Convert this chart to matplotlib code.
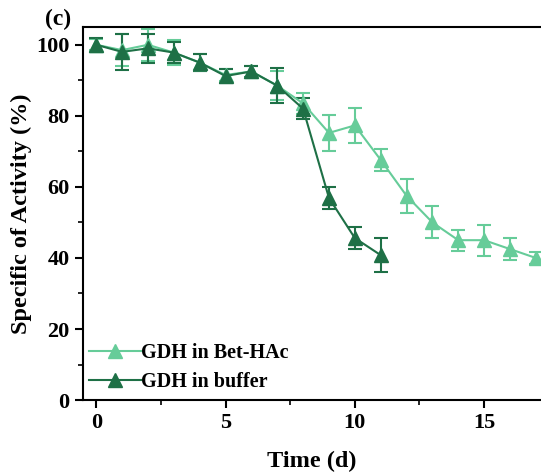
import numpy as np
import matplotlib
matplotlib.use('Agg')
import matplotlib.pyplot as plt
from matplotlib.ticker import MultipleLocator
from matplotlib.lines import Line2D

plt.rcParams['font.family'] = ['Liberation Serif', 'DejaVu Serif']
plt.rcParams['font.weight'] = 'bold'

# data
days_bet = list(range(0, 18))
act_bet = [100, 98.5, 100, 97.8, 95, 91.5, 92.5, 88.5, 83.5, 75.2, 77.3, 67.6, 57.5, 50, 45, 45, 42.5, 40]
err_bet = [1.5, 4.5, 4.5, 3.5, 2.5, 1.8, 1.5, 4, 3, 5, 5, 3, 4.8, 4.5, 3, 4.4, 3, 1.8]

days_buf = list(range(0, 12))
act_buf = [100, 98, 99, 97.8, 95, 91.2, 92.5, 88.5, 82, 56.9, 45.6, 40.8]
err_buf = [2, 5, 4, 3, 2.5, 2, 1.5, 5, 3, 3, 3, 4.8]

labels = ['GDH in Bet-HAc', 'GDH in buffer']
light = '#66CC99'
dark = '#1E7046'

fig = plt.figure(figsize=(5.41, 4.74), dpi=100)
ax = fig.add_axes([0.153, 0.156, 0.847, 0.787])

ax.errorbar(days_bet, act_bet, yerr=err_bet, color=light, marker='^', ms=10,
            lw=1.5, capsize=5, elinewidth=1.5, capthick=1.5)
ax.errorbar(days_buf, act_buf, yerr=err_buf, color=dark, marker='^', ms=10,
            lw=1.5, capsize=5, elinewidth=1.5, capthick=1.5)

ax.set_xlim(-0.52, 17.2)
ax.set_ylim(0, 105)
ax.xaxis.set_major_locator(MultipleLocator(5))
ax.xaxis.set_minor_locator(MultipleLocator(2.5))
ax.yaxis.set_major_locator(MultipleLocator(20))
ax.yaxis.set_minor_locator(MultipleLocator(10))
ax.tick_params(which='major', direction='out', length=6, width=1.5, labelsize=16)
ax.tick_params(which='minor', direction='out', length=3.5, width=1.2)
for s in ['left', 'bottom', 'top']:
    ax.spines[s].set_linewidth(1.5)
ax.spines['right'].set_visible(False)

ax.set_xlabel('Time (d)', fontsize=17.5, fontweight='bold', labelpad=13)
ax.set_ylabel('Specific of Activity (%)', fontsize=17.5, fontweight='bold')
ax.yaxis.set_label_coords(-0.11, 0.5)

handles = [Line2D([], [], color=light, marker='^', ms=10, lw=1.5),
           Line2D([], [], color=dark, marker='^', ms=10, lw=1.5)]
ax.legend(handles, labels, loc='lower left', frameon=False, fontsize=14.5,
          handlelength=2.6, handletextpad=0.0, borderaxespad=0.0, labelspacing=0.45,
          bbox_to_anchor=(-0.005, 0.0))

fig.text(0.107, 0.960, '(c)', fontsize=17, fontweight='bold', ha='center', va='center')

fig.savefig('out.png', dpi=100)
